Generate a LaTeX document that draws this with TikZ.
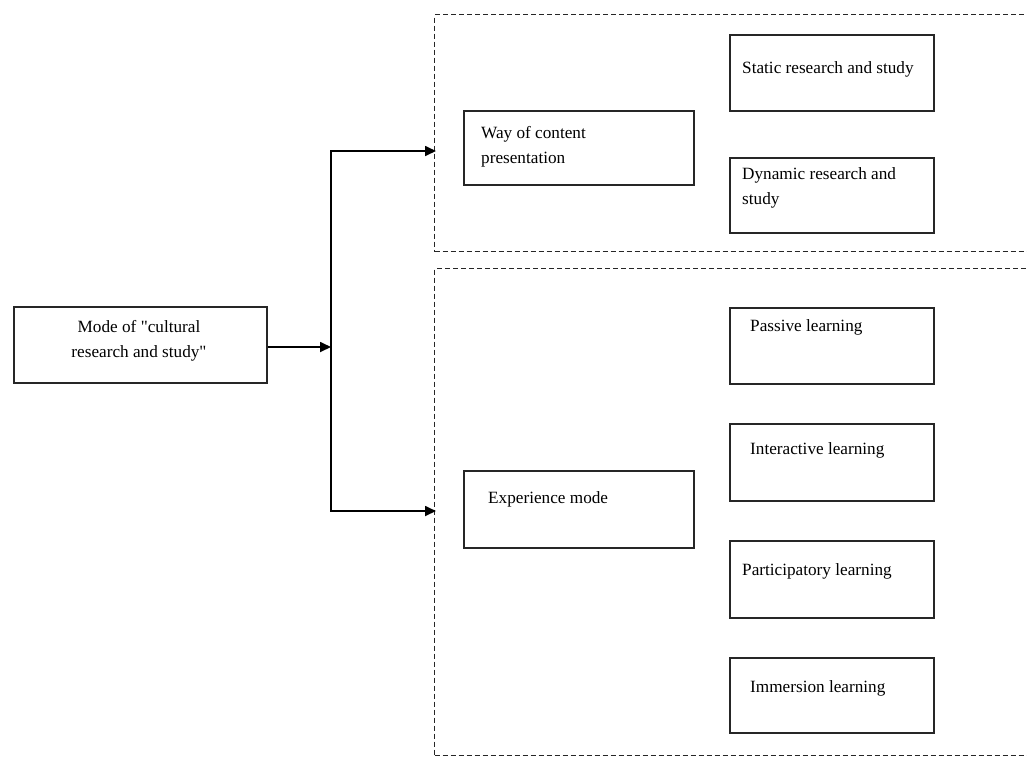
\documentclass[tikz,border=0pt]{standalone}
\usepackage{fontspec}
\setmainfont{Liberation Serif}[Ligatures=TeXOff]
\usetikzlibrary{arrows.meta}
\begin{document}
\begin{tikzpicture}[x=1pt,y=-1pt,
  box/.style={draw=black!85,line width=1.7pt,rectangle,inner sep=0pt,anchor=north west},
  grp/.style={draw=black!85,line width=1.3pt,dash pattern=on 5pt off 3pt,rectangle,inner sep=0pt,anchor=north west},
  txt/.style={anchor=base west,inner sep=0pt,font=\fontsize{17.2pt}{25pt}\selectfont,align=left},
  ctxt/.style={anchor=base,inner sep=0pt,font=\fontsize{17.2pt}{25pt}\selectfont,align=center},
  conn/.style={draw=black,line width=1.7pt},
  arr/.style={conn,-{Triangle[length=11pt,width=10pt]}}]
\useasboundingbox (0,0) rectangle (1027,756);
% groups (open at right edge of picture)
\node[grp,minimum width=620pt,minimum height=237pt] (g1) at (434,14) {};
\node[grp,minimum width=620pt,minimum height=487pt] (g2) at (434,268) {};
% boxes
\node[box,minimum width=253pt,minimum height=76pt] (mode) at (13,306) {};
\node[box,minimum width=230pt,minimum height=74pt] (way) at (463,110) {};
\node[box,minimum width=230pt,minimum height=77pt] (exp) at (463,470) {};
\node[box,minimum width=204pt,minimum height=76pt] (static) at (729,34) {};
\node[box,minimum width=204pt,minimum height=75pt] (dyn) at (729,157) {};
\node[box,minimum width=204pt,minimum height=76pt] (pass) at (729,307) {};
\node[box,minimum width=204pt,minimum height=77pt] (inter) at (729,423) {};
\node[box,minimum width=204pt,minimum height=77pt] (part) at (729,540) {};
\node[box,minimum width=204pt,minimum height=75pt] (imm) at (729,657) {};
% texts (two-line nodes: base is the baseline of the last line)
\node[ctxt] (modeT) at (139,357) {Mode of "cultural\\research and study"};
\node[txt] (wayT) at (481,163) {Way of content\\presentation};
\node[txt] (expT) at (488,503) {Experience mode};
\node[txt] (staticT) at (742,73) {Static research and study};
\node[txt] (dynT) at (742,204) {Dynamic research and\\study};
\node[txt] (passT) at (750,331) {Passive learning};
\node[txt] (interT) at (750,454) {Interactive learning};
\node[txt] (partT) at (742,575) {Participatory learning};
\node[txt] (immT) at (750,692) {Immersion learning};
% connectors
\coordinate (tj) at (331,347);
\coordinate (a1) at (436,151);
\coordinate (a2) at (436,511);
\draw[arr] (mode.east |- tj) -- (tj);
\draw[arr] (tj) |- (a1);
\draw[arr] (tj) |- (a2);
\end{tikzpicture}
\end{document}
